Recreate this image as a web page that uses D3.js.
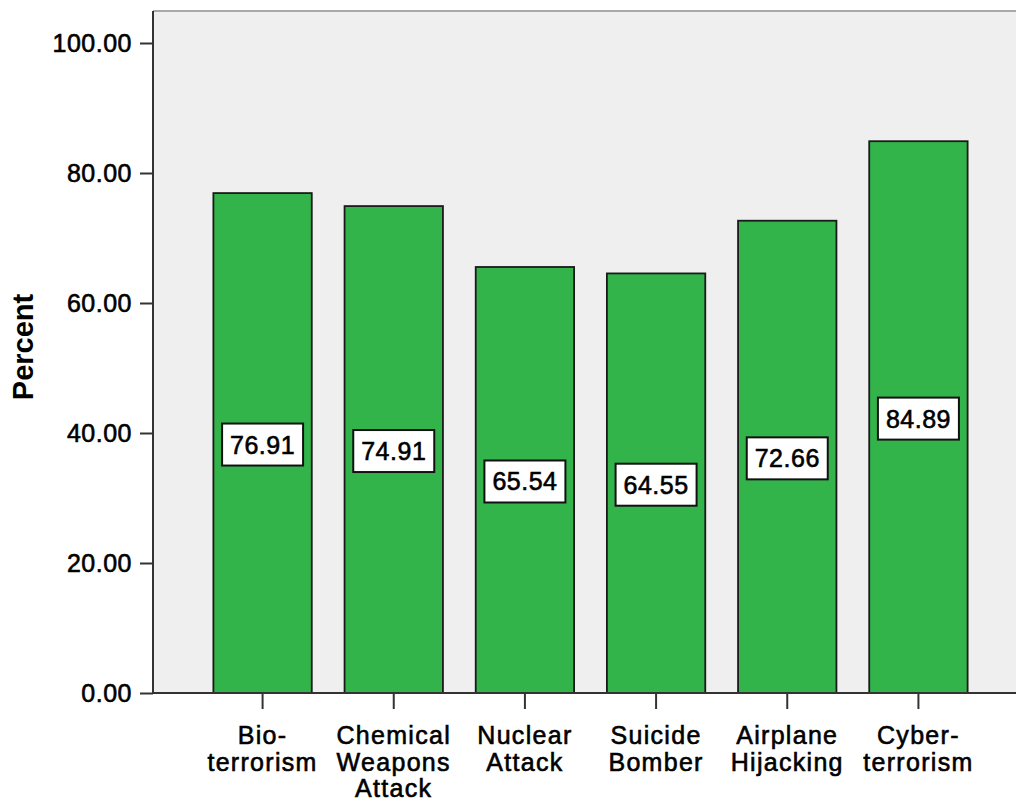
<!DOCTYPE html>
<html>
<head>
<meta charset="utf-8">
<script src="https://cdn.jsdelivr.net/npm/d3@7"></script>
<style>
  html, body { margin: 0; padding: 0; background: #ffffff; }
  svg { display: block; }
  text { font-family: "Liberation Sans", Arial, sans-serif; fill: #000; }
  .heavy { stroke: #000; stroke-width: 0.6px; paint-order: stroke; }
</style>
</head>
<body>
<svg id="chart" width="1016" height="802"></svg>
<script>
const categories = ["Bio-terrorism", "Chemical Weapons Attack", "Nuclear Attack", "Suicide Bomber", "Airplane Hijacking", "Cyber-terrorism"];
const categoryLines = [["Bio-", "terrorism"], ["Chemical", "Weapons", "Attack"], ["Nuclear", "Attack"], ["Suicide", "Bomber"], ["Airplane", "Hijacking"], ["Cyber-", "terrorism"]];
const values = [76.91, 74.91, 65.54, 64.55, 72.66, 84.89];
const yTicks = [0, 20, 40, 60, 80, 100];
const yLabel = "Percent";

const svg = d3.select("#chart");
const plotLeft = 153, plotTop = 11, plotRight = 1016, plotBottom = 693;

const x = d3.scaleBand().domain(categories).range([197, 984]).paddingInner(0.25).paddingOuter(0.125);
const y = d3.scaleLinear().domain([0, 100]).range([plotBottom, 43]);

// plot background
svg.append("rect").attr("x", plotLeft).attr("y", plotTop)
  .attr("width", plotRight - plotLeft).attr("height", plotBottom - plotTop)
  .attr("fill", "#efefef");
// top border
svg.append("line").attr("x1", plotLeft).attr("x2", plotRight).attr("y1", plotTop).attr("y2", plotTop)
  .attr("stroke", "#a8a8a8").attr("stroke-width", 2);

// bars
svg.append("g").selectAll("rect").data(values).join("rect")
  .attr("x", (d, i) => x(categories[i]))
  .attr("y", d => y(d))
  .attr("width", x.bandwidth())
  .attr("height", d => y(0) - y(d))
  .attr("fill", "#33b44a")
  .attr("stroke", "#1a1a1a")
  .attr("stroke-width", 1.8);

// value labels
const lab = svg.append("g").selectAll("g").data(values).join("g")
  .attr("transform", (d, i) => `translate(${x(categories[i]) + x.bandwidth() / 2},${(y(d) + y(0)) / 2 + 1.5})`);
lab.append("rect").attr("x", -40.5).attr("y", -21).attr("width", 81).attr("height", 42)
  .attr("fill", "#ffffff").attr("stroke", "#111").attr("stroke-width", 2);
lab.append("text").attr("class", "heavy").attr("text-anchor", "middle").attr("dy", "0.36em")
  .style("font-size", "25px").style("letter-spacing", "0.5px")
  .text(d => d.toFixed(2));

// y axis
const yAxis = svg.append("g").attr("transform", `translate(${plotLeft},0)`)
  .call(d3.axisLeft(y).tickValues(yTicks).tickFormat(d3.format(".2f")).tickSize(13).tickPadding(8));
yAxis.select(".domain").attr("d", `M0,${plotTop}V${plotBottom}`).attr("stroke", "#333").attr("stroke-width", 2);
yAxis.selectAll(".tick line").attr("stroke", "#333").attr("stroke-width", 2);
yAxis.selectAll(".tick text").attr("class", "heavy").style("font-size", "25px").style("letter-spacing", "0.5px")
  .style("font-family", "'Liberation Sans', Arial, sans-serif").attr("fill", "#000");

// x axis
const xAxis = svg.append("g").attr("transform", `translate(0,${plotBottom})`)
  .call(d3.axisBottom(x).tickSize(16).tickFormat(""));
xAxis.select(".domain").attr("d", `M${plotLeft},0H${plotRight}`).attr("stroke", "#333").attr("stroke-width", 2);
xAxis.selectAll(".tick line").attr("stroke", "#333").attr("stroke-width", 2);

// category labels
const catG = svg.append("g").selectAll("text").data(categories).join("text")
  .attr("class", "heavy")
  .attr("text-anchor", "middle")
  .attr("x", d => x(d) + x.bandwidth() / 2)
  .attr("y", 744)
  .style("font-size", "25px").style("letter-spacing", "1.3px");
catG.selectAll("tspan").data((d, i) => categoryLines[i]).join("tspan")
  .attr("x", function () { return d3.select(this.parentNode).attr("x"); })
  .attr("dy", (d, j) => j === 0 ? 0 : 26.5)
  .text(d => d);

// y label
svg.append("text").attr("transform", "translate(33,347) rotate(-90)")
  .attr("text-anchor", "middle").style("font-size", "29px").style("font-weight", "bold")
  .text(yLabel);
</script>
</body>
</html>
